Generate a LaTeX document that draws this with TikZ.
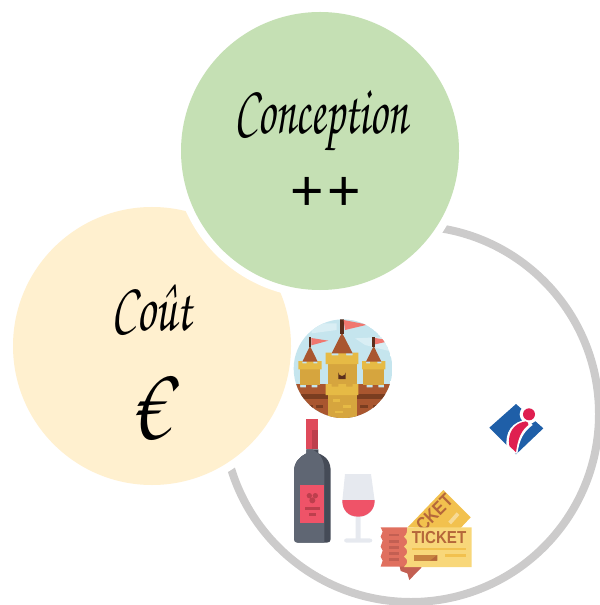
\documentclass[tikz,border=0pt]{standalone}
\usepackage{fontspec}
\setmainfont{TeX Gyre Chorus}
\newfontfamily\iconfont{Liberation Sans}[BoldFont={Liberation Sans Bold}]
\definecolor{ringgray}{HTML}{CCCBCB}
\definecolor{greenfill}{HTML}{C5E0B4}
\definecolor{yellowfill}{HTML}{FFF0CF}
\definecolor{brownA}{HTML}{A9562F}
\definecolor{brownD}{HTML}{7A3D20}
\definecolor{brownP}{HTML}{5B2E1C}
\definecolor{goldA}{HTML}{D6A53E}
\definecolor{goldB}{HTML}{E6BA45}
\definecolor{flagred}{HTML}{F0776F}
\definecolor{sky}{HTML}{C5E5EE}
\definecolor{cloud}{HTML}{D9EEF4}
\definecolor{bottleg}{HTML}{5F6673}
\definecolor{bottled}{HTML}{454B57}
\definecolor{winered}{HTML}{EF5368}
\definecolor{neckred}{HTML}{DF4A5B}
\definecolor{glassg}{HTML}{E6E9EF}
\definecolor{tickA}{HTML}{F8D77A}
\definecolor{tickB}{HTML}{F2C14E}
\definecolor{tickC}{HTML}{E0705F}
\definecolor{tickD}{HTML}{C35F52}
\definecolor{tickT}{HTML}{B5673A}
\definecolor{logoblue}{HTML}{1F5FA8}
\definecolor{logored}{HTML}{DF1F50}
\tikzset{
  x=.75pt,y=-.75pt,
  bubble/.style={circle,minimum size=208.5pt,inner sep=0pt,outer sep=0pt},
  halo/.style={circle,minimum size=220.5pt,inner sep=0pt,outer sep=0pt,fill=white},
  scripttext/.style={inner sep=0pt,text=black},
}
\begin{document}
\begin{tikzpicture}
\useasboundingbox (0,0) rectangle (599,605);
% ring
\node[circle,draw=ringgray,line width=6pt,minimum size=282pt,inner sep=0pt,outer sep=0pt] (ring) at (411,414) {};
% yellow bubble
\node[halo] (yhalo) at (152,346) {};
\node[bubble,fill=yellowfill] (cout) at (152,346) {};
% green bubble
\node[halo] (ghalo) at (320,151) {};
\node[bubble,fill=greenfill] (conception) at (320,151) {};
% labels
\node[scripttext,xscale=.64,font=\fontsize{52}{52}\selectfont\itshape] (t1) at (321,121) {Conception};
\node[scripttext,font=\iconfont\fontsize{43}{43}\selectfont] (t2) at (326,194) {+\kern2.5pt+};
\node[scripttext,xscale=.68,font=\fontsize{52}{52}\selectfont\itshape] (t3) at (152,310) {Coût};
\node[scripttext,yscale=1.25,font=\fontsize{58}{58}\selectfont\itshape] (t4) at (156,408) {€};
% castle
\begin{scope}[shift={(280,310)},x=.25pt,y=-.25pt]
  \begin{scope}
    \clip (189,176) circle [radius=148];
    \fill[sky] (189,176) circle [radius=148];
    \fill[cloud] (95,70) -- (170,60) -- (170,40) -- (95,40) -- cycle;
    \fill[cloud] (225,85) -- (335,80) -- (335,125) -- (255,105) -- cycle;
    % walls
    \fill[brownA] (40,222) -- (60,222) -- (60,232) -- (78,232) -- (78,222) -- (95,222) -- (95,232) -- (112,232) -- (112,222) -- (260,222) -- (260,232) -- (278,232) -- (278,222) -- (295,222) -- (295,232) -- (312,232) -- (312,222) -- (340,222) -- (340,330) -- (40,330) -- cycle;
    \fill[brownD] (40,252) rectangle (340,266);
    \fill[brownD] (75,285) rectangle (100,295);
    \fill[brownD] (108,285) rectangle (130,295);
    \fill[brownD] (240,285) rectangle (265,295);
    \fill[brownD] (280,285) rectangle (300,295);
    % left tower
    \fill[goldA] (60,170) rectangle (120,225);
    \fill[goldB] (55,153) -- (67,153) -- (67,160) -- (80,160) -- (80,153) -- (100,153) -- (100,160) -- (112,160) -- (112,153) -- (125,153) -- (125,178) -- (55,178) -- cycle;
    \fill[brownA] (90,108) -- (113,155) -- (67,155) -- cycle;
    \fill[brownP] (86,80) rectangle (94,112);
    \fill[flagred] (94,84) -- (145,92) -- (94,106) -- cycle;
    % right tower
    \fill[goldA] (250,170) rectangle (312,225);
    \fill[goldB] (246,153) -- (258,153) -- (258,160) -- (270,160) -- (270,153) -- (292,153) -- (292,160) -- (304,160) -- (304,153) -- (316,153) -- (316,178) -- (246,178) -- cycle;
    \fill[brownA] (281,108) -- (304,155) -- (258,155) -- cycle;
    \fill[brownP] (277,80) rectangle (285,112);
    \fill[flagred] (285,84) -- (335,92) -- (285,103) -- cycle;
    % centre tower
    \fill[goldA] (143,150) rectangle (230,330);
    \fill[goldB] (137,128) -- (155,128) -- (155,136) -- (175,136) -- (175,128) -- (198,128) -- (198,136) -- (218,136) -- (218,128) -- (235,128) -- (235,162) -- (137,162) -- cycle;
    \fill[goldB] (137,222) -- (155,222) -- (155,230) -- (175,230) -- (175,222) -- (198,222) -- (198,230) -- (218,230) -- (218,222) -- (235,222) -- (235,255) -- (137,255) -- cycle;
    \fill[brownA] (186,68) -- (218,130) -- (155,130) -- cycle;
    \fill[brownP] (181,27) rectangle (191,72);
    \fill[flagred] (191,30) -- (262,44) -- (195,60) -- cycle;
    \fill[brownP] (175,207) -- (175,187) arc [start angle=180,end angle=0,radius=11] -- (197,207) -- cycle;
    \fill[goldB] (160,268) rectangle (180,276);
    \fill[goldB] (190,285) rectangle (212,293);
    \fill[goldB] (165,302) rectangle (190,310);
  \end{scope}
\end{scope}
% bottle and glass
\begin{scope}[shift={(280,410)},x=.25pt,y=-.25pt]
  \fill[neckred] (79,27) rectangle (115,118);
  \fill[neckred!85!black] (97,60) rectangle (115,118);
  \fill[bottled] (79,118) -- (115,118) -- (115,130) .. controls (140,140) and (152,155) .. (152,185) -- (152,388) .. controls (152,395) and (147,398) .. (140,398) -- (54,398) .. controls (47,398) and (42,395) .. (42,388) -- (42,185) .. controls (42,155) and (60,140) .. (79,130) -- cycle;
  \fill[bottleg] (79,118) -- (97,118) -- (115,130) .. controls (125,140) and (133,155) .. (133,185) -- (133,398) -- (54,398) .. controls (47,398) and (42,395) .. (42,388) -- (42,185) .. controls (42,155) and (60,140) .. (79,130) -- cycle;
  \fill[winered] (61,225) rectangle (133,338);
  \fill[neckred!85!black] (88,257) circle [radius=8];
  \fill[neckred!85!black] (106,257) circle [radius=8];
  \fill[neckred!85!black] (97,271) circle [radius=9];
  \fill[neckred!85!black] (74,291) rectangle (120,301);
  \fill[neckred!85!black] (86,310) rectangle (108,319);
  % glass
  \fill[glassg] (195,192) -- (273,192) -- (284,272) .. controls (285,300) and (262,320) .. (242,320) -- (242,385) -- (268,385) .. controls (280,385) and (280,398) .. (268,398) -- (200,398) .. controls (190,398) and (190,385) .. (200,385) -- (227,385) -- (227,320) .. controls (205,320) and (186,300) .. (187,272) -- cycle;
  \fill[winered] (187,270) -- (284,270) .. controls (285,300) and (262,320) .. (235,320) .. controls (205,320) and (186,300) .. (187,270) -- cycle;
  % tickets
  \fill[tickD] (358,465) -- (425,472) -- (388,510) -- (382,490) -- (362,483) -- cycle;
  \fill[tickB] (383,352) -- (490,240) -- (572,322) -- (540,356) -- cycle;
  \begin{scope}
    \clip (383,352) -- (490,240) -- (572,322) -- (540,356) -- cycle;
    \node[rotate=45,xscale=.85,font=\iconfont\bfseries\fontsize{14}{14}\selectfont,text=tickT,inner sep=0pt] (backticket) at (463,308) {CKET};
  \end{scope}
  \fill[tickB!60!white] (505,335) -- (530,307) -- (538,315) -- (513,343) -- cycle;
  \fill[tickC] (302,352) -- (382,352) -- (382,470) -- (302,470) -- (308,452) -- (302,440) -- (308,422) -- (302,410) -- (308,392) -- (302,380) -- (308,365) -- cycle;
  \foreach \yy in {375,394,412,430,448} \fill[tickD] (328,\yy-4) rectangle (356,\yy+4);
  \fill[tickA] (382,352) -- (575,352) -- (575,471) -- (372,471) .. controls (385,458) and (385,450) .. (372,440) .. controls (385,430) and (385,420) .. (372,410) .. controls (385,400) and (385,392) .. (372,380) .. controls (382,372) and (382,362) .. (382,352) -- cycle;
  \node[xscale=.87,font=\iconfont\bfseries\fontsize{13}{13}\selectfont,text=tickT,inner sep=0pt] (frontticket) at (477,384) {TICKET};
  \fill[tickB] (395,413) rectangle (558,420);
  \fill[tickB] (495,431) rectangle (558,440);
  \fill[tickT!70!tickB] (401,435) rectangle (472,452);
  \fill[tickT] (450,452) -- (472,435) -- (472,452) -- cycle;
\end{scope}
% logo
\begin{scope}[shift={(480,395)},x=.25pt,y=-.25pt]
  \fill[logoblue] (28,98) -- (108,27) -- (190,100) -- (108,178) -- cycle;
  \fill[white] (147,58) circle [radius=28];
  \fill[white] (80,160) .. controls (74,110) and (95,80) .. (145,72) -- (158,90) .. controls (130,110) and (118,135) .. (112,176) -- (100,176) -- cycle;
  \fill[logored] (147,58) circle [radius=18];
  \fill[logored] (88,153) .. controls (82,115) and (100,85) .. (137,79) .. controls (143,80) and (147,85) .. (145,90) .. controls (125,105) and (113,130) .. (108,172) -- cycle;
\end{scope}
\end{tikzpicture}
\end{document}
